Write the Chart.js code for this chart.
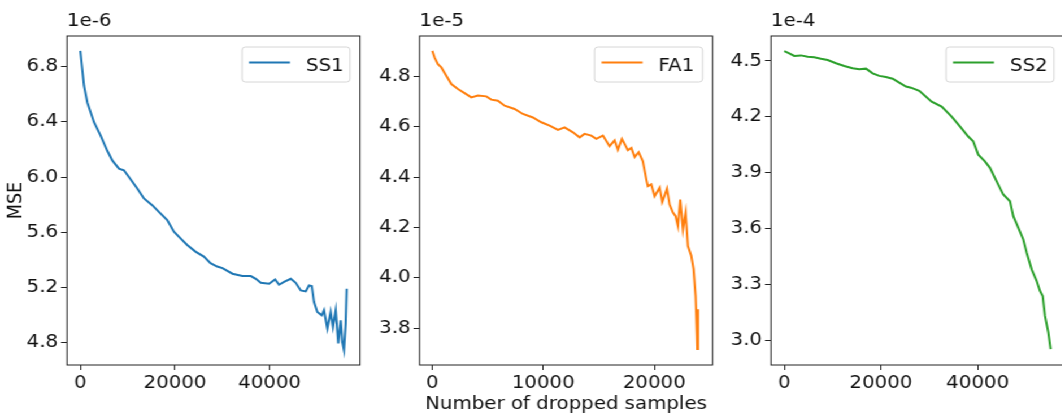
<!DOCTYPE html>
<html>
<head>
<meta charset="utf-8">
<script src="https://cdn.jsdelivr.net/npm/chart.js@4"></script>
<style>
html, body { margin: 0; padding: 0; background: #fff; overflow: hidden; }
#wrap { position: absolute; left: 0; top: 0; width: 960px; height: 415px; transform: scaleX(1.13); transform-origin: 0 0; }
canvas { position: absolute; top: 0; }
</style>
</head>
<body>
<div id="wrap">
  <canvas id="c1"></canvas>
  <canvas id="c2"></canvas>
  <canvas id="c3"></canvas>
</div>
<script>
// values (MSE in units of the offset text)
var ss1X = [0, 780, 1480, 2890, 4290, 5700, 6750, 8160, 9210, 10270, 12030, 13440, 15190, 16600, 18360, 19770, 21170, 22580, 24330, 26100, 27500, 28910, 30030, 32140, 34250, 36010, 37070, 38130, 39880, 41150, 41990, 43040, 44460, 45510, 46570, 47620, 48320, 48890, 49370, 50070, 51000, 51480, 52180, 52890, 53380, 53950, 54500, 55010, 55350, 55700, 56060, 56270];
var ss1Y = [6.913, 6.661, 6.54, 6.397, 6.30, 6.19, 6.12, 6.061, 6.049, 6.00, 5.917, 5.845, 5.796, 5.748, 5.688, 5.604, 5.556, 5.508, 5.46, 5.424, 5.376, 5.352, 5.34, 5.30, 5.283, 5.283, 5.263, 5.234, 5.227, 5.258, 5.22, 5.24, 5.263, 5.234, 5.179, 5.172, 5.215, 5.211, 5.095, 5.023, 4.999, 5.035, 4.903, 5.023, 4.915, 5.035, 4.795, 4.963, 4.807, 4.747, 4.939, 5.191];

var fa1X = [0, 207, 505, 811, 1261, 1712, 2306, 2910, 3514, 4108, 4865, 5315, 5910, 6514, 7414, 8162, 9063, 9820, 10570, 11320, 11920, 12670, 13270, 13720, 14320, 14770, 15370, 15970, 16420, 16720, 17080, 17620, 17930, 18230, 18590, 18970, 19280, 19420, 19730, 20030, 20480, 20720, 21140, 21380, 21680, 21920, 22130, 22340, 22580, 22820, 23030, 23330, 23540, 23720, 23840, 23870, 23920, 23960];
var fa1Y = [4.902, 4.875, 4.849, 4.836, 4.803, 4.770, 4.75, 4.734, 4.717, 4.724, 4.721, 4.708, 4.704, 4.684, 4.671, 4.651, 4.637, 4.618, 4.605, 4.588, 4.598, 4.578, 4.558, 4.572, 4.565, 4.552, 4.565, 4.523, 4.546, 4.509, 4.552, 4.507, 4.516, 4.48, 4.499, 4.463, 4.391, 4.364, 4.371, 4.324, 4.358, 4.301, 4.354, 4.291, 4.259, 4.245, 4.205, 4.311, 4.192, 4.259, 4.126, 4.087, 4.034, 3.928, 3.769, 3.717, 3.80, 3.875];

var ss2X = [0, 1030, 2070, 3450, 4840, 6200, 7590, 8970, 10690, 12410, 14140, 15510, 16900, 18280, 19650, 21030, 22420, 23780, 25170, 26200, 27920, 30480, 32550, 34620, 36330, 38050, 39080, 40120, 41500, 42540, 43920, 45290, 46680, 47360, 48390, 49430, 50130, 51160, 52200, 52880, 53440, 53910, 54600, 55090];
var ss2Y = [4.553, 4.541, 4.527, 4.530, 4.523, 4.520, 4.512, 4.505, 4.488, 4.473, 4.461, 4.456, 4.459, 4.434, 4.42, 4.414, 4.405, 4.384, 4.363, 4.357, 4.34, 4.282, 4.256, 4.202, 4.149, 4.095, 4.069, 3.998, 3.962, 3.927, 3.855, 3.784, 3.748, 3.668, 3.606, 3.543, 3.472, 3.383, 3.320, 3.267, 3.240, 3.133, 3.045, 2.955];

var yTicks1 = [4.8, 5.2, 5.6, 6.0, 6.4, 6.8];
var yTicks2 = [3.8, 4.0, 4.2, 4.4, 4.6, 4.8];
var yTicks3 = [3.0, 3.3, 3.6, 3.9, 4.2, 4.5];
var xTicks1 = [0, 20000, 40000];
var xTicks2 = [0, 10000, 20000];
var xTicks3 = [0, 20000, 40000];

var S = 1.13; // horizontal stretch of the whole picture
var FS = 17.5;
Chart.defaults.font.family = '"DejaVu Sans", sans-serif';
Chart.defaults.font.size = FS;
Chart.defaults.color = '#111';

var frame = {
  id: 'frame',
  afterDraw: function(chart, args, o) {
    var a = chart.chartArea, ctx = chart.ctx;
    ctx.save();
    ctx.strokeStyle = '#222';
    ctx.lineWidth = 1;
    ctx.strokeRect(a.left, a.top, a.right - a.left, a.bottom - a.top);

    ctx.font = FS + 'px "DejaVu Sans"';
    ctx.fillStyle = '#111';
    ctx.textBaseline = 'alphabetic';
    ctx.textAlign = 'left';
    ctx.fillText(o.offset, a.left, 26);

    // legend box inside the plot, top right
    var ds = chart.data.datasets[0];
    var bw = 108 / S, bx = a.right - 10 / S - bw, by = 47, bh = 35;
    ctx.beginPath();
    if (ctx.roundRect) ctx.roundRect(bx, by, bw, bh, 3); else ctx.rect(bx, by, bw, bh);
    ctx.fillStyle = 'rgba(255,255,255,0.8)';
    ctx.fill();
    ctx.strokeStyle = '#d6d6d6';
    ctx.stroke();
    ctx.beginPath();
    ctx.moveTo(bx + 7 / S, 62.5);
    ctx.lineTo(bx + 48 / S, 62.5);
    ctx.strokeStyle = ds.borderColor;
    ctx.lineWidth = ds.borderWidth;
    ctx.stroke();
    ctx.fillStyle = '#111';
    ctx.fillText(ds.label, bx + 64 / S, 70.5);
    ctx.restore();
  }
};

function panel(id, left, label, color, xs, ys, xMin, xMax, yMin, yMax, xTicks, yTicks, offset, yTitle, xTitle) {
  var cv = document.getElementById(id);
  cv.width = 326;
  cv.height = 415;
  cv.style.left = (left / S) + 'px';
  return new Chart(cv, {
    type: 'line',
    data: {
      datasets: [{
        label: label,
        data: xs.map(function(x, i) { return {x: x, y: ys[i]}; }),
        borderColor: color,
        borderWidth: 2,
        pointRadius: 0,
        tension: 0,
        fill: false
      }]
    },
    options: {
      responsive: false,
      animation: false,
      layout: { padding: { top: 36, right: 326 - 67 / S - 293 / S, left: 0, bottom: 0 } },
      plugins: { legend: { display: false }, tooltip: { enabled: false }, frame: { offset: offset } },
      scales: {
        x: {
          type: 'linear', min: xMin, max: xMax,
          afterBuildTicks: function(s) { s.ticks = xTicks.map(function(v) { return {value: v}; }); },
          afterFit: function(s) { s.height = 50; },
          grid: { drawOnChartArea: false, drawTicks: true, tickLength: 5, color: '#222' },
          border: { display: false },
          ticks: { padding: 3, maxRotation: 0, autoSkip: false, color: '#111', callback: function(v) { return String(v); } },
          title: { display: !!xTitle, text: xTitle || '', padding: 0, color: '#111' }
        },
        y: {
          type: 'linear', min: yMin, max: yMax,
          afterBuildTicks: function(s) { s.ticks = yTicks.map(function(v) { return {value: v}; }); },
          afterFit: function(s) { s.width = 67 / S; },
          grid: { drawOnChartArea: false, drawTicks: true, tickLength: 6 / S, color: '#222' },
          border: { display: false },
          ticks: { padding: 3 / S, autoSkip: false, color: '#111', callback: function(v) { return v.toFixed(1); } },
          title: { display: !!yTitle, text: yTitle || '', padding: { top: 3.5, bottom: 0 }, color: '#111' }
        }
      }
    },
    plugins: [frame]
  });
}

panel('c1', 0, 'SS1', '#1f77b4', ss1X, ss1Y, -2814, 59084, 4.639, 7.021, xTicks1, yTicks1, '1e-6', 'MSE', null);
panel('c2', 353, 'FA1', '#ff7f0e', fa1X, fa1Y, -1150, 25250, 3.653, 4.961, xTicks2, yTicks2, '1e-5', null, 'Number of dropped samples');
panel('c3', 704, 'SS2', '#2ca02c', ss2X, ss2Y, -2750, 57850, 2.870, 4.634, xTicks3, yTicks3, '1e-4', null, null);
</script>
</body>
</html>
